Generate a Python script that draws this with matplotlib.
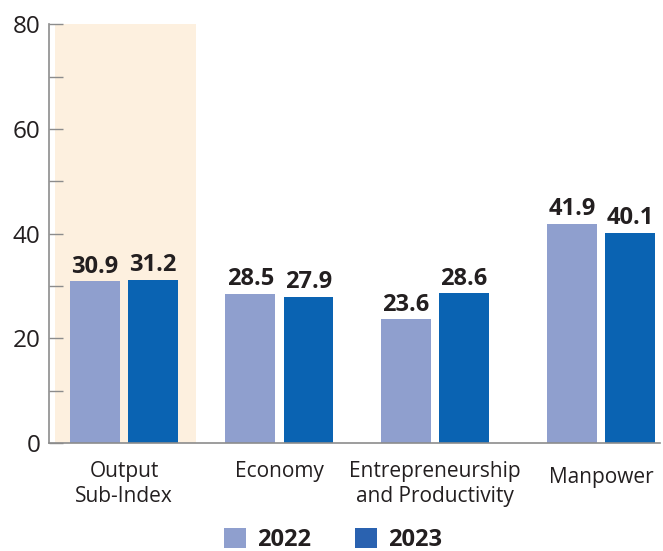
import matplotlib.pyplot as plt
import numpy as np
from matplotlib.patches import Patch
from matplotlib.ticker import MultipleLocator
import matplotlib.transforms as mtransforms

plt.rcParams["font.family"] = ["Open Sans", "Noto Sans", "DejaVu Sans"]

categories = ["Output\nSub-Index", "Economy", "Entrepreneurship\nand Productivity", "Manpower"]
years = ["2022", "2023"]
values_2022 = [30.9, 28.5, 23.6, 41.9]
values_2023 = [31.2, 27.9, 28.6, 40.1]

COLORS = {"2022": "#8F9FCE", "2023": "#0A63B2"}
HIGHLIGHT = "#FDF0DF"
TEXT = "#231F20"

x = np.array([0.0, 1.0, 2.0, 3.07])
width = 0.32
offset = 0.187

fig = plt.figure(figsize=(6.63, 5.51), dpi=100)
ax = fig.add_axes([0.074, 0.196, 0.921, 0.760])

ax.axvspan(-0.444, 0.463, color=HIGHLIGHT, zorder=0, lw=0)

for vals, sign, year in [(values_2022, -1, "2022"), (values_2023, 1, "2023")]:
    bars = ax.bar(x + sign * offset, vals, width, color=COLORS[year], zorder=2)
    for bar, v in zip(bars, vals):
        ax.text(bar.get_x() + bar.get_width() / 2, v + 0.5, f"{v:.1f}",
                ha="center", va="bottom", fontsize=17, fontweight="bold", color=TEXT)

ax.set_xlim(-0.482, 3.447)
ax.set_ylim(0, 80)
ax.yaxis.set_major_locator(MultipleLocator(20))
ax.yaxis.set_minor_locator(MultipleLocator(10))
ax.tick_params(axis="y", which="both", direction="in", length=10, width=1, color="#8C8C8C",
               labelsize=17.5, labelcolor=TEXT, pad=6)
ax.set_xticks([])
for s in ["top", "right"]:
    ax.spines[s].set_visible(False)
for s in ["left", "bottom"]:
    ax.spines[s].set_color("#8C8C8C")
    ax.spines[s].set_linewidth(1.2)

# category labels under each group
trans = mtransforms.blended_transform_factory(ax.transData, fig.transFigure)
label_y = [1 - 484 / 551, 1 - 472 / 551, 1 - 484 / 551, 1 - 478 / 551]
for xi, cat, ly in zip(x, categories, label_y):
    ax.text(xi, ly, cat, transform=trans, ha="center", va="center",
            fontsize=15, color=TEXT, linespacing=1.2)

handles = [Patch(facecolor=COLORS["2022"]), Patch(facecolor="#2A62B0")]
leg = fig.legend(handles, years, loc="center", bbox_to_anchor=(0.502, 0.02),
                 ncol=2, frameon=False, handlelength=0.93, handleheight=0.93,
                 handletextpad=0.47, columnspacing=1.86,
                 prop={"weight": "bold", "size": 17})
for t in leg.get_texts():
    t.set_color(TEXT)

fig.savefig("out.png", dpi=100)
